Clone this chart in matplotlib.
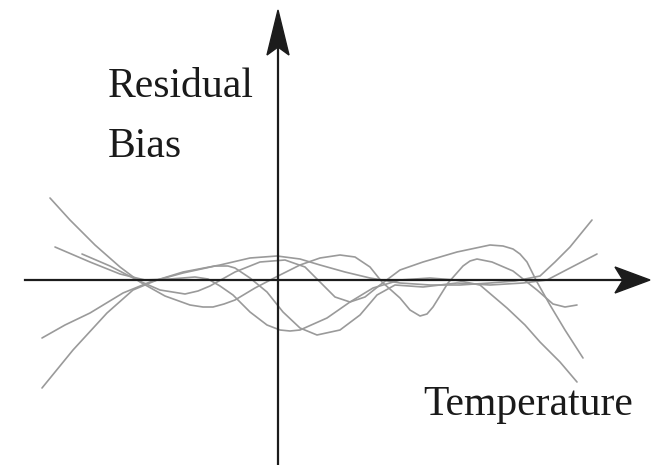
import matplotlib
matplotlib.use("Agg")
import matplotlib.pyplot as plt
from matplotlib.patches import Polygon

# residual bias curves (temperature offset, bias), origin at the axes crossing
temp_a = [-228, -208, -183, -158, -138, -113, -88, -75, -65, -54, -43, -23, 0, 22, 42, 62, 77, 92,
          104, 122, 132, 142, 149, 155, 170, 185, 192, 199, 214, 235, 259, 275, 287, 299]
bias_a = [82, 60, 35, 13, -2, -16, -25, -27, -27, -24, -20, -8, 4, 15, 22, 25, 23, 13,
          -2, -18, -30, -36, -34, -27, -3, 14, 19, 21, 18, 9, -10, -24, -27, -25]

temp_b = [-223, -188, -158, -133, -108, -83, -70, -58, -45, -28, -11, 2, 12, 22, 49, 72, 95, 122,
          152, 177, 202, 229, 247, 262, 282, 299]
bias_b = [33, 18, 6, 0, 1, 3, 1, -6, -15, -32, -45, -50, -51, -50, -38, -22, -8, 0,
          2, 0, -5, -28, -45, -62, -82, -102]

temp_c = [-196, -168, -141, -118, -93, -80, -68, -43, -18, 7, 27, 42, 57, 72, 87, 102, 122,
          145, 179, 212, 225, 235, 242, 249, 259, 272, 287, 305]
bias_c = [26, 14, 0, -10, -14, -11, -6, 8, 18, 20, 13, -2, -17, -22, -17, -5, 10,
          18, 28, 35, 34, 31, 26, 18, -2, -25, -50, -78]

temp_d = [-236, -213, -188, -155, -128, -95, -63, -50, -43, -28, -11, 5, 22, 39, 62, 82, 99,
          117, 145, 179, 212, 245, 269, 292, 319]
bias_d = [-58, -45, -33, -13, -2, 7, 14, 14, 12, 2, -12, -32, -48, -55, -50, -35, -15,
          -5, -7, -3, -5, -3, 0, 12, 26]

temp_e = [-236, -205, -171, -145, -121, -95, -58, -28, -1, 22, 42, 67, 92, 122, 152, 182,
          212, 237, 262, 277, 292, 314]
bias_e = [-108, -70, -33, -10, 0, 8, 15, 22, 24, 21, 15, 8, 2, -3, -5, -5,
          -3, -1, 4, 18, 33, 60]

curves = [(temp_a, bias_a), (temp_b, bias_b), (temp_c, bias_c),
          (temp_d, bias_d), (temp_e, bias_e)]

fig = plt.figure(figsize=(6.6, 4.65), dpi=100)
ax = fig.add_axes([0, 0, 1, 1])
ax.set_xlim(-278, 382)
ax.set_ylim(-185, 280)
ax.axis("off")

for t, b in curves:
    ax.plot(t, b, color="#9a9a9a", lw=1.2, solid_capstyle="round",
            solid_joinstyle="round", zorder=2)

# axes with arrow heads
axis_col = "#1c1c1c"
ax.plot([-253, 345], [0, 0], color=axis_col, lw=1.6, zorder=3)
ax.plot([0, 0], [-185, 235], color=axis_col, lw=1.6, zorder=3)
ax.add_patch(Polygon([(372, 0), (337, 13), (345, 0), (337, -13)],
                     closed=True, color=axis_col, zorder=4))
ax.add_patch(Polygon([(0, 270), (-11, 225), (0, 233), (11, 225)],
                     closed=True, color=axis_col, zorder=4))

font = dict(family=["Liberation Serif", "DejaVu Serif"], size=30, color="#1a1a1a")
ax.text(-170, 183, "Residual", ha="left", va="baseline", **font)
ax.text(-170, 123, "Bias", ha="left", va="baseline", **font)
ax.text(145, -135, "Temperature", ha="left", va="baseline", **font)

fig.savefig("out.png", dpi=100)
